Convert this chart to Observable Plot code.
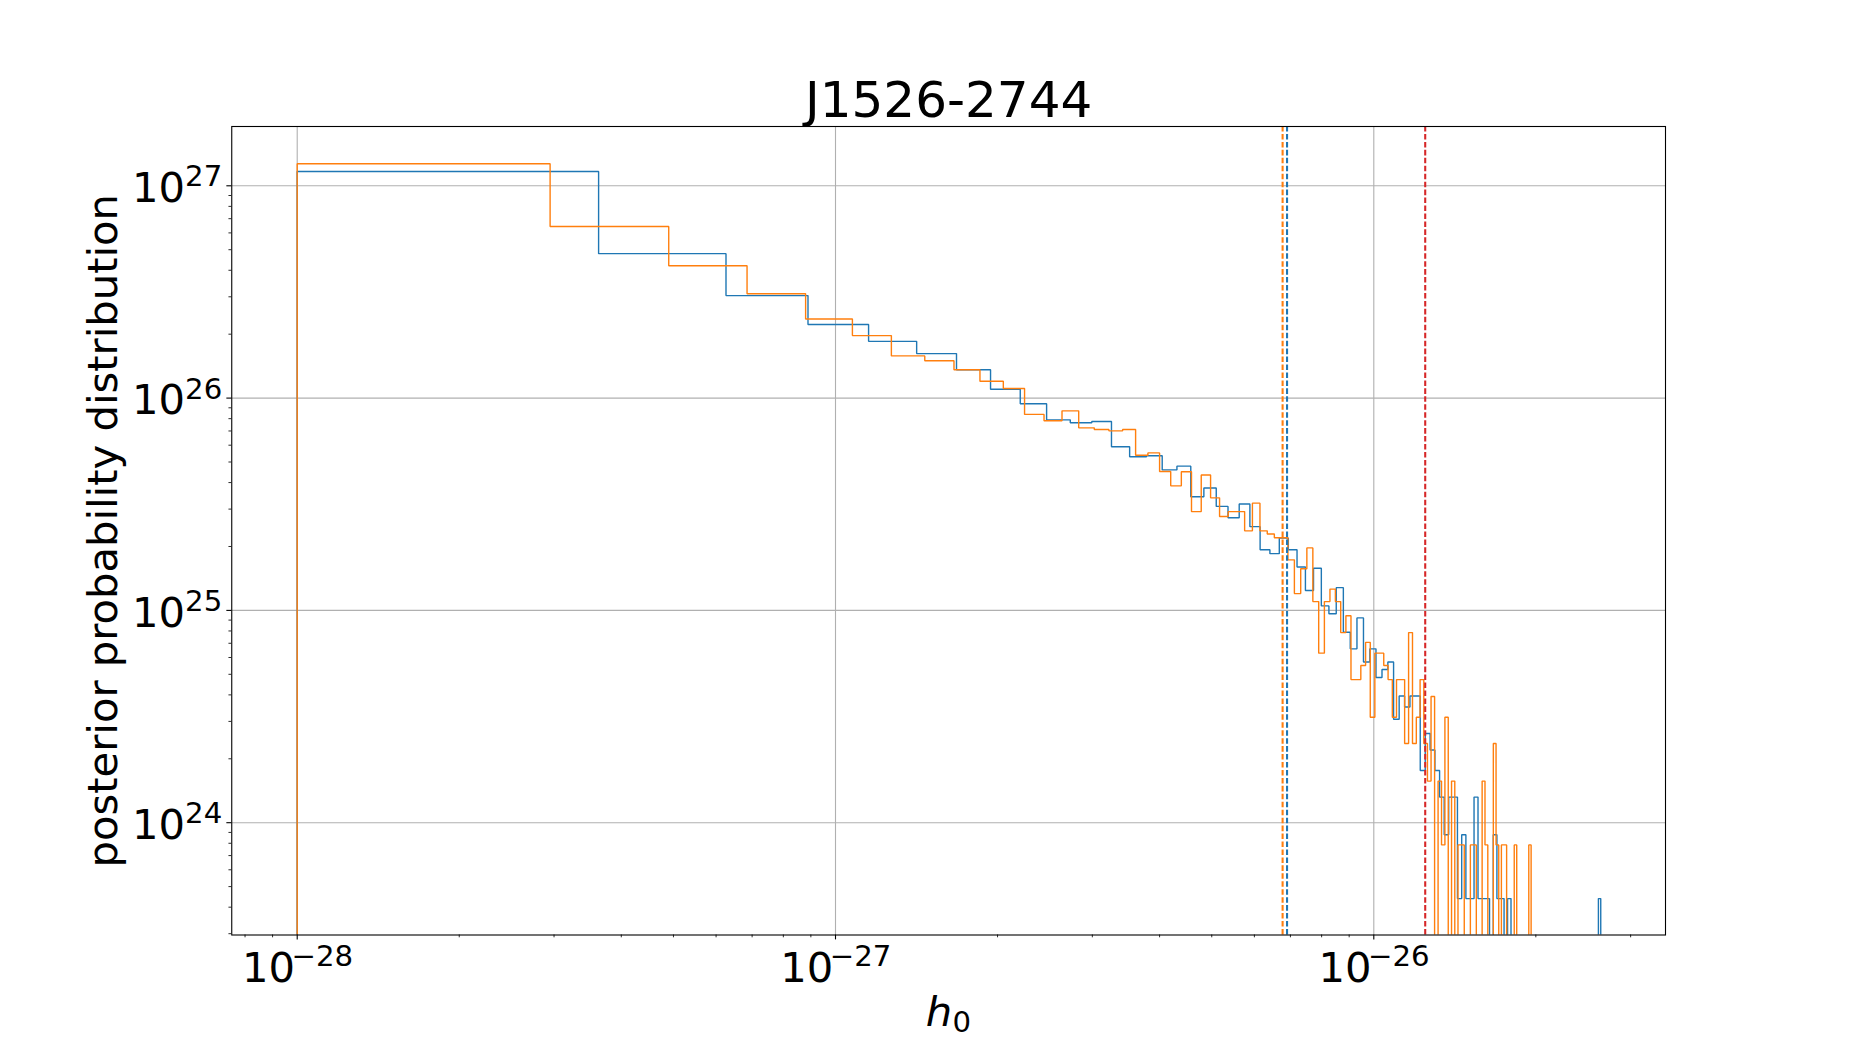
<!DOCTYPE html>
<html><head><meta charset="utf-8">
<script src="https://cdn.jsdelivr.net/npm/d3@7"></script>
<script src="https://cdn.jsdelivr.net/npm/@observablehq/plot@0.6"></script>
<style>html,body{margin:0;padding:0;background:#fff;} svg{display:block;}</style>
</head><body><div id="chart"></div>
<script>
// ---------- data ----------
const title = "J1526-2744";
const xLabel = "h";
const xLabelSub = "0";
const yLabel = "posterior probability distribution";

// both histograms: 100 linear bins starting at 1e-28
const binLow = 1e-28;
const blueHigh = 2.64e-26;
const orangeHigh = 1.96e-26;

const blueDensity = [
  1.167e27, 4.79e26, 3.04e26, 2.22e26, 1.85e26, 1.62e26, 1.36e26, 1.10e26, 9.40e25, 7.90e25,
  7.65e25, 7.76e25, 5.90e25, 5.29e25, 5.35e25, 4.59e25, 4.78e25, 3.43e25, 3.77e25, 3.09e25,
  2.73e25, 3.17e25, 2.48e25, 1.93e25, 1.85e25, 2.19e25, 1.93e25, 1.60e25, 1.24e25, 1.58e25,
  1.05e25, 9.64e24, 1.28e25, 7.89e24, 6.59e24, 9.22e24, 5.71e24, 6.59e24, 4.83e24, 5.27e24,
  5.71e24, 3.07e24, 3.95e24, 3.51e24, 3.95e24, 3.95e24, 1.76e24, 2.63e24, 2.20e24, 1.76e24,
  1.32e24, 8.78e23, 1.32e24, 1.32e24, 4.39e23, 8.78e23, 4.39e23, 4.39e23, 1.32e24, 4.39e23,
  4.39e23, 4.39e23, 0, 8.78e23, 4.39e23, 4.39e23, 0, 4.39e23, 0, 0,
  0, 0, 0, 0, 0, 0, 0, 0, 0, 0,
  0, 0, 0, 0, 0, 0, 0, 0, 0, 0,
  0, 0, 0, 0, 0, 0, 0, 0, 0, 4.39e23
];

const orangeDensity = [
  1.27e27, 6.43e26, 4.20e26, 3.10e26, 2.36e26, 1.97e26, 1.58e26, 1.50e26, 1.36e26, 1.20e26,
  1.11e26, 8.38e25, 7.82e25, 8.71e25, 7.24e25, 7.11e25, 7.01e25, 7.11e25, 5.38e25, 5.52e25,
  4.51e25, 3.86e25, 4.50e25, 2.92e25, 4.34e25, 3.39e25, 2.77e25, 2.92e25, 2.92e25, 2.37e25,
  3.20e25, 2.37e25, 2.29e25, 2.20e25, 2.20e25, 1.73e25, 1.20e25, 1.57e25, 1.97e25, 1.10e25,
  6.29e24, 1.10e25, 1.26e25, 1.10e25, 7.86e24, 9.43e24, 4.72e24, 4.72e24, 5.50e24, 7.07e24,
  3.14e24, 6.29e24, 6.29e24, 5.50e24, 4.72e24, 3.14e24, 4.72e24, 4.72e24, 2.36e24, 7.86e24,
  2.36e24, 3.14e24, 4.72e24, 2.36e24, 1.57e24, 3.93e24, 0, 1.57e24, 7.86e23, 3.14e24,
  0, 1.57e24, 0, 7.86e23, 7.86e23, 0, 0, 7.86e23, 7.86e23, 0,
  0, 1.57e24, 7.86e23, 0, 0, 2.36e24, 7.86e23, 0, 7.86e23, 7.86e23,
  0, 0, 0, 7.86e23, 0, 0, 0, 0, 0, 7.86e23
];

// vertical dashed lines
const orangeLine = 6.77e-27;
const blueLine = 6.90e-27;
const redLine = 1.246e-26;

// tick labels
const xTickValues = [1e-28, 1e-27, 1e-26];
const xTickExponents = ["\u221228", "\u221227", "\u221226"];
const yTickValues = [1e24, 1e25, 1e26, 1e27];
const yTickExponents = ["24", "25", "26", "27"];

// ---------- build ----------
const C0 = "#1f77b4", C1 = "#ff7f0e", C3 = "#d62728";
const FLOOR = 1e18; // stands in for empty bins (off the log axis)

function stepPoints(density, lo, hi) {
  const n = density.length, w = (hi - lo) / n;
  const v = d => (d > 0 ? d : FLOOR);
  const pts = [{x: lo, y: FLOOR}];
  density.forEach((d, i) => pts.push({x: lo + i * w, y: v(d)}));
  pts.push({x: hi, y: v(density[n - 1])});
  pts.push({x: hi, y: FLOOR});
  return pts;
}

const bluePts = stepPoints(blueDensity, binLow, blueHigh);
const orangePts = stepPoints(orangeDensity, binLow, orangeHigh);

function minorTicks(e0, e1, lo, hi) {
  const out = [];
  for (let e = e0; e <= e1; e++) for (let m = 2; m <= 9; m++) {
    const v = m * Math.pow(10, e);
    if (v >= lo && v <= hi) out.push(v);
  }
  return out;
}

const xDomain = [Math.pow(10, -28.1216), Math.pow(10, -25.4581)];
const yDomain = [Math.pow(10, 23.471), Math.pow(10, 27.2793)];
const xMinor = minorTicks(-29, -26, xDomain[0], xDomain[1]);
const yMinor = minorTicks(23, 27, yDomain[0], yDomain[1]);

const TICK = 41.7, SUP = 29.2;
const xt = xTickValues.map((v, i) => ({v, e: xTickExponents[i]}));
const yt = yTickValues.map((v, i) => ({v, e: yTickExponents[i]}));

const chart = Plot.plot({
  width: 1850,
  height: 1050,
  marginLeft: 231.25,
  marginRight: 185,
  marginTop: 126,
  marginBottom: 115.5,
  style: {fontFamily: "DejaVu Sans", background: "white", color: "black"},
  x: {type: "log", domain: xDomain, label: null},
  y: {type: "log", domain: yDomain, label: null},
  marks: [
    Plot.gridX(xTickValues, {stroke: "#b0b0b0", strokeOpacity: 1, strokeWidth: 1.1}),
    Plot.gridY(yTickValues, {stroke: "#b0b0b0", strokeOpacity: 1, strokeWidth: 1.1}),
    Plot.line(bluePts, {x: "x", y: "y", curve: "step-after", stroke: C0, strokeWidth: 1.4, strokeLinejoin: "miter", clip: true}),
    Plot.line(orangePts, {x: "x", y: "y", curve: "step-after", stroke: C1, strokeWidth: 1.4, strokeLinejoin: "miter", clip: true}),
    Plot.ruleX([orangeLine], {stroke: C1, strokeWidth: 2.08, strokeDasharray: "5.55,2.4"}),
    Plot.ruleX([blueLine], {stroke: C0, strokeWidth: 2.08, strokeDasharray: "5.55,2.4"}),
    Plot.ruleX([redLine], {stroke: C3, strokeWidth: 2.08, strokeDasharray: "5.55,2.4"}),
    // axes ticks
    Plot.axisX(xTickValues, {tickSize: 4.9, strokeWidth: 1.1, tickFormat: () => "", label: null}),
    Plot.axisX(xMinor, {tickSize: 2.8, strokeWidth: 0.83, tickFormat: () => "", label: null}),
    Plot.axisY(yTickValues, {tickSize: 4.9, strokeWidth: 1.1, tickFormat: () => "", label: null}),
    Plot.axisY(yMinor, {tickSize: 2.8, strokeWidth: 0.83, tickFormat: () => "", label: null}),
    // tick labels 10^n
    Plot.text(xt, {x: "v", frameAnchor: "bottom", text: () => "10", textAnchor: "end", lineAnchor: "bottom", dx: -2.15, dy: 46.8, fontSize: TICK}),
    Plot.text(xt, {x: "v", frameAnchor: "bottom", text: "e", textAnchor: "start", lineAnchor: "bottom", dx: -5.7, dy: 31.1, fontSize: SUP}),
    Plot.text(yt, {y: "v", frameAnchor: "left", text: () => "10", textAnchor: "end", lineAnchor: "bottom", dx: -46.8, dy: 16.4, fontSize: TICK}),
    Plot.text(yt, {y: "v", frameAnchor: "left", text: "e", textAnchor: "end", lineAnchor: "bottom", dx: -9.55, dy: 0.7, fontSize: SUP}),
    // title and axis labels
    Plot.text([title], {frameAnchor: "top", text: d => d, lineAnchor: "bottom", dy: -9.3, fontSize: 50}),
    Plot.text([yLabel], {frameAnchor: "left", text: d => d, rotate: -90, textAnchor: "middle", lineAnchor: "bottom", dx: -115.25, fontSize: TICK}),
    Plot.text([xLabel], {frameAnchor: "bottom", text: d => d, textAnchor: "start", lineAnchor: "bottom", dx: -23, dy: 90.5, fontSize: TICK, fontStyle: "oblique"}),
    Plot.text([xLabelSub], {frameAnchor: "bottom", text: d => d, textAnchor: "start", lineAnchor: "bottom", dx: 3.9, dy: 97.2, fontSize: SUP}),
    Plot.frame({stroke: "black", strokeWidth: 1.1})
  ]
});
document.getElementById("chart").appendChild(chart);
</script>
</body></html>
